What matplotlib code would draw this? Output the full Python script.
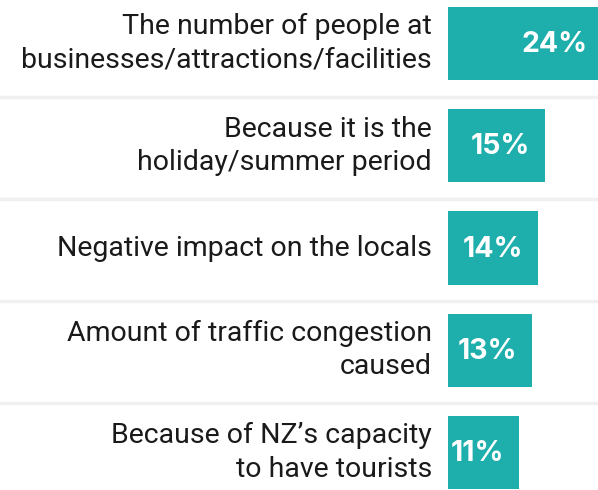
import matplotlib
matplotlib.use("Agg")
import matplotlib.pyplot as plt

# data, top to bottom
labels = [
    "The number of people at\nbusinesses/attractions/facilities",
    "Because it is the\nholiday/summer period",
    "Negative impact on the locals",
    "Amount of traffic congestion\ncaused",
    "Because of NZ\u2019s capacity\nto have tourists",
]
values = [24, 15, 14, 13, 11]

teal = "#1eafac"
plt.rcParams["font.family"] = ["Roboto", "DejaVu Sans"]

fig = plt.figure(figsize=(5.98, 4.9), dpi=100)
ax = fig.add_axes([0, 0, 1, 1])

pos = list(range(len(values)))
ax.barh(pos, values, height=0.714, color=teal, edgecolor="none")

# ~6.45 px per percent, bars start at x=448 px
ax.set_xlim(-448 / 6.45, 150 / 6.45)
ax.set_ylim(4 + 37.5 / 102.25, -43.5 / 102.25)
ax.axis("off")

# light separators across the full width
for i in pos[:-1]:
    ax.axhline(i + 0.52, color="#f0f0f0", lw=2.5, zorder=0)

for i, (lab, v) in enumerate(zip(labels, values)):
    ax.text(-16 / 6.45, i, lab, ha="right", va="center", fontsize=20.5,
            color="#1a1a1a", linespacing=1.3)
    ax.text(v - 15 / 6.45, i + 0.01, f"{v}%", ha="right", va="center",
            fontsize=20.5, fontweight="bold", color="white",
            family=["Inter", "Roboto", "DejaVu Sans"])

fig.savefig("out.png", dpi=100)
